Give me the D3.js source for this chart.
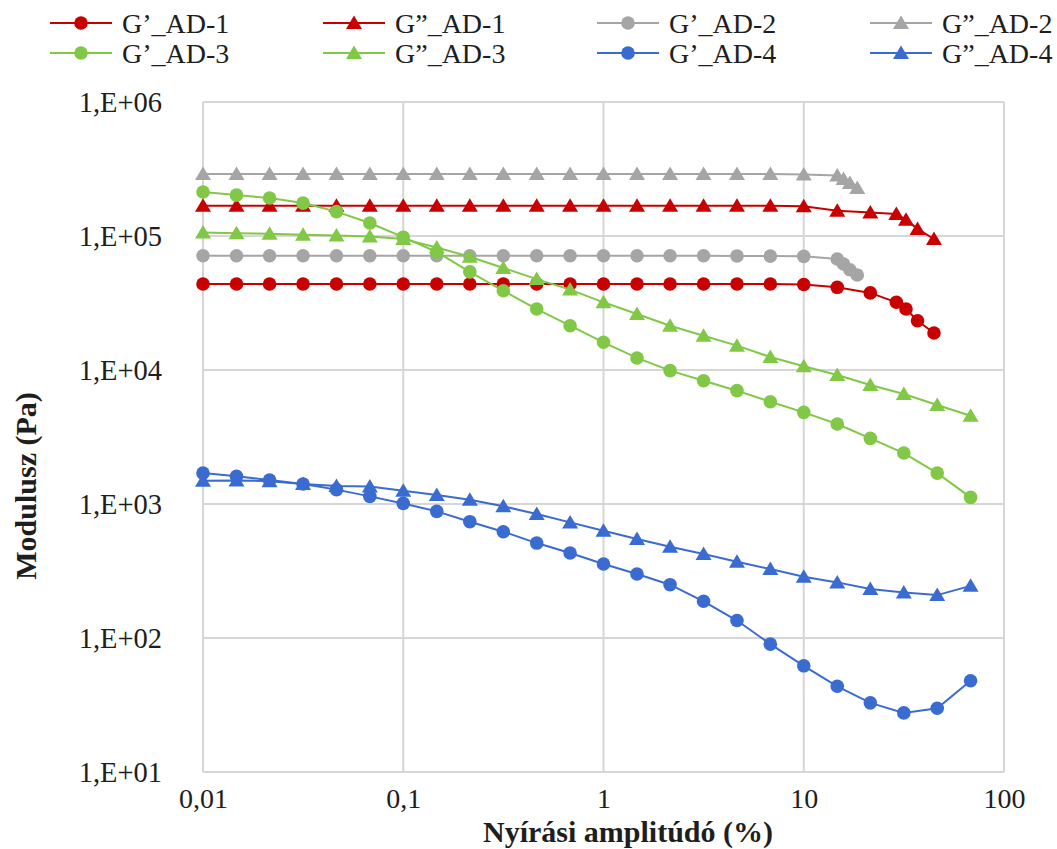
<!DOCTYPE html>
<html>
<head>
<meta charset="utf-8">
<script src="https://cdn.jsdelivr.net/npm/d3@7"></script>
<style>
  html, body { margin: 0; padding: 0; background: #fff; }
  svg { display: block; }
  text { font-family: "Liberation Serif", "Times New Roman", "DejaVu Serif", serif; fill: #1e1e1e; }
</style>
</head>
<body>
<svg id="chart" width="1057" height="849"></svg>
<script>
// Shear strain amplitudes (%) of the sweep
const strain = [0.01, 0.0147, 0.0215, 0.0316, 0.0464, 0.0681, 0.1, 0.147, 0.215, 0.316, 0.464, 0.681,
                1, 1.47, 2.15, 3.16, 4.64, 6.81, 10, 14.7, 21.5, 31.6, 46.4, 68.1];
// AD-1 and AD-2 stop earlier, with denser points near the end
const strainAD1 = [0.01, 0.0147, 0.0215, 0.0316, 0.0464, 0.0681, 0.1, 0.147, 0.215, 0.316, 0.464, 0.681,
                   1, 1.47, 2.15, 3.16, 4.64, 6.81, 10, 14.7, 21.5, 29, 32.4, 37, 44.7];
const strainAD2 = [0.01, 0.0147, 0.0215, 0.0316, 0.0464, 0.0681, 0.1, 0.147, 0.215, 0.316, 0.464, 0.681,
                   1, 1.47, 2.15, 3.16, 4.64, 6.81, 10, 14.7, 15.8, 17, 18.5];

// Storage (G') and loss (G'') moduli, Pa
const gStorageAD1 = [43800, 43800, 43800, 43800, 43800, 43800, 43800, 43800, 43800, 43800, 43800, 43800,
                     43800, 43800, 43800, 43800, 43800, 43800, 43500, 41400, 37600, 32000, 28500, 23300, 18900];
const gLossAD1 = [168000, 168000, 168000, 168000, 168000, 168000, 168000, 168000, 168000, 168000, 168000, 168000,
                  168000, 168000, 168000, 168000, 168000, 168000, 167000, 154500, 150000, 146000, 132000, 113000, 95000];
const gStorageAD2 = [71300, 71300, 71300, 71300, 71300, 71300, 71300, 71300, 71300, 71300, 71300, 71300,
                     71300, 71300, 71300, 71300, 71000, 70800, 70500, 67300, 61800, 56000, 51200];
const gLossAD2 = [290000, 290000, 290000, 290000, 290000, 290000, 290000, 290000, 290000, 290000, 290000, 290000,
                  290000, 290000, 290000, 290000, 290000, 290000, 288000, 283000, 266000, 249000, 228000];
const gStorageAD3 = [213000, 202000, 192000, 176000, 152000, 125000, 98000, 76000, 54000, 39000, 28500, 21400,
                     16100, 12300, 9900, 8320, 7010, 5800, 4830, 3950, 3090, 2400, 1700, 1120];
const gLossAD3 = [106000, 105000, 104000, 102000, 101000, 99000, 95000, 82000, 70000, 57700, 47700, 39800,
                  32000, 26200, 21400, 18000, 15200, 12500, 10650, 9180, 7730, 6620, 5480, 4560];
const gStorageAD4 = [1700, 1610, 1510, 1410, 1280, 1140, 1010, 881, 738, 621, 511, 431,
                     357, 300, 250, 188, 135, 90, 62, 43.6, 32.8, 27.6, 29.9, 48];
const gLossAD4 = [1490, 1500, 1480, 1410, 1360, 1350, 1257, 1167, 1077, 961, 842, 729,
                  632, 548, 480, 424, 371, 327, 287, 260, 232, 219, 209, 245];

const seriesNames = ["G\u2019_AD-1", "G\u201D_AD-1", "G\u2019_AD-2", "G\u201D_AD-2",
                     "G\u2019_AD-3", "G\u201D_AD-3", "G\u2019_AD-4", "G\u201D_AD-4"];
const xTicks = [0.01, 0.1, 1, 10, 100];
const xTickLabels = ["0,01", "0,1", "1", "10", "100"];
const yTicks = [10, 100, 1000, 10000, 100000, 1000000];
const yTickLabels = ["1,E+01", "1,E+02", "1,E+03", "1,E+04", "1,E+05", "1,E+06"];

const series = [
  { name: seriesNames[0], x: strainAD1, y: gStorageAD1, color: "#c80000", marker: "circle" },
  { name: seriesNames[1], x: strainAD1, y: gLossAD1,    color: "#c80000", marker: "triangle" },
  { name: seriesNames[2], x: strainAD2, y: gStorageAD2, color: "#a5a5a5", marker: "circle" },
  { name: seriesNames[3], x: strainAD2, y: gLossAD2,    color: "#a5a5a5", marker: "triangle" },
  { name: seriesNames[4], x: strain,    y: gStorageAD3, color: "#80c846", marker: "circle" },
  { name: seriesNames[5], x: strain,    y: gLossAD3,    color: "#80c846", marker: "triangle" },
  { name: seriesNames[6], x: strain,    y: gStorageAD4, color: "#3a6bd0", marker: "circle" },
  { name: seriesNames[7], x: strain,    y: gLossAD4,    color: "#3a6bd0", marker: "triangle" }
];

const svg = d3.select("#chart");
const plot = { left: 203, right: 1004, top: 102, bottom: 772 };

const x = d3.scaleLog().domain([0.01, 100]).range([plot.left, plot.right]);
const y = d3.scaleLog().domain([10, 1000000]).range([plot.bottom, plot.top]);

// Gridlines (log decades)
const grid = svg.append("g").attr("stroke", "#d6d6d6").attr("stroke-width", 2).attr("fill", "none");
grid.selectAll("line.v").data(xTicks).join("line")
  .attr("x1", d => x(d)).attr("x2", d => x(d))
  .attr("y1", plot.top).attr("y2", plot.bottom);
grid.selectAll("line.h").data(yTicks).join("line")
  .attr("x1", plot.left).attr("x2", plot.right)
  .attr("y1", d => y(d)).attr("y2", d => y(d));

// Axes: labels only, no tick marks or domain path
const xAxis = d3.axisBottom(x).tickValues(xTicks)
  .tickFormat((d, i) => xTickLabels[i]).tickSize(0).tickPadding(16.5);
const yAxis = d3.axisLeft(y).tickValues(yTicks)
  .tickFormat((d, i) => yTickLabels[i]).tickSize(0).tickPadding(41);

const gx = svg.append("g").attr("transform", `translate(0,${plot.bottom})`).call(xAxis);
const gy = svg.append("g").attr("transform", `translate(${plot.left},0)`).call(yAxis);
[gx, gy].forEach(g => {
  g.select(".domain").remove();
  g.selectAll("text")
    .style("font-family", '"Liberation Serif", "Times New Roman", serif')
    .style("font-size", "28.5px").attr("fill", "#1e1e1e");
});
gx.selectAll("text").style("font-size", "28px");

// Axis titles
svg.append("text")
  .attr("x", 628).attr("y", 842)
  .attr("text-anchor", "middle")
  .style("font-size", "30px").style("font-weight", "bold")
  .text("Nyírási amplitúdó (%)");
svg.append("text")
  .attr("transform", "translate(36,486) rotate(-90)")
  .attr("text-anchor", "middle")
  .style("font-size", "30px").style("font-weight", "bold")
  .text("Modulusz (Pa)");

// Marker shapes
const triPath = "M0,-7.5L8,6L-8,6Z";
function drawMarker(sel, kind, color) {
  if (kind === "circle") {
    sel.append("circle").attr("r", 6.8).attr("fill", color);
  } else {
    sel.append("path").attr("d", triPath).attr("fill", color);
  }
}

const line = d3.line().x(d => x(d[0])).y(d => y(d[1]));

const marks = svg.append("g");
series.forEach(s => {
  const pts = s.x.map((v, i) => [v, s.y[i]]);
  const g = marks.append("g");
  g.append("path").datum(pts)
    .attr("d", line)
    .attr("fill", "none").attr("stroke", s.color).attr("stroke-width", 2);
  g.selectAll("g.pt").data(pts).join("g")
    .attr("transform", d => `translate(${x(d[0])},${y(d[1])})`)
    .each(function () { drawMarker(d3.select(this), s.marker, s.color); });
});

// Legend: 4 columns x 2 rows
const legendCols = [50, 323, 597, 870];
const legendRows = [23, 53];
const legend = svg.append("g");
series.forEach((s, i) => {
  const cx = legendCols[i % 4];
  const cy = legendRows[Math.floor(i / 4)];
  const g = legend.append("g").attr("transform", `translate(${cx},${cy})`);
  g.append("line").attr("x1", 0).attr("x2", 62).attr("y1", 0).attr("y2", 0)
    .attr("stroke", s.color).attr("stroke-width", 2);
  const m = g.append("g").attr("transform", "translate(31,0)");
  drawMarker(m, s.marker, s.color);
  g.append("text").attr("x", 72).attr("y", 0).attr("dy", "0.35em")
    .style("font-size", "28px").text(s.name);
});
</script>
</body>
</html>
